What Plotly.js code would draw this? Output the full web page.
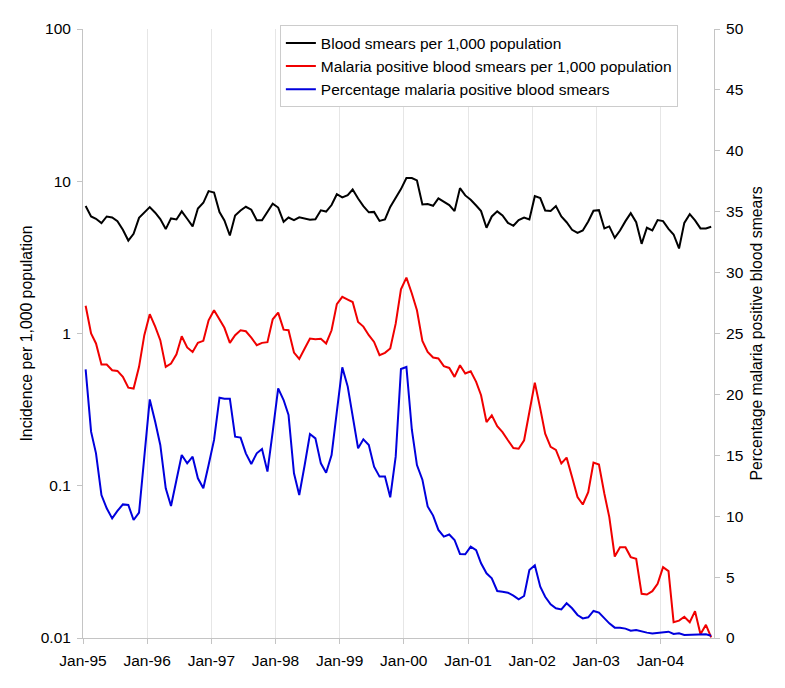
<!DOCTYPE html>
<html>
<head>
<meta charset="utf-8">
<script src="https://cdn.plot.ly/plotly-3.0.1.min.js"></script>
<style>
  html, body { margin: 0; padding: 0; background: #fff; }
  #chart { width: 785px; height: 688px; }
</style>
</head>
<body>
<div id="chart"></div>
<script>
// monthly series, Jan-95 .. Oct-04 (118 months)
const startYear = 1995;
const nMonths = 118;

const smears = [
  6.87, 5.87, 5.67, 5.31, 5.87, 5.78, 5.47, 4.80, 4.08, 4.52,
  5.75, 6.21, 6.76, 6.21, 5.64, 4.85, 5.70, 5.61, 6.34, 5.67,
  5.05, 6.62, 7.22, 8.61, 8.44, 6.27, 5.53, 4.40, 5.96, 6.43,
  6.80, 6.50, 5.55, 5.55, 6.26, 7.12, 6.72, 5.42, 5.78, 5.55,
  5.80, 5.68, 5.58, 5.62, 6.44, 6.32, 6.98, 8.22, 7.84, 8.10,
  8.82, 7.70, 6.87, 6.25, 6.29, 5.49, 5.61, 6.78, 7.80, 8.88,
  10.49, 10.49, 10.12, 7.04, 7.08, 6.90, 7.71, 7.29, 6.97, 6.37,
  9.01, 8.07, 7.55, 6.93, 6.37, 4.95, 5.87, 6.34, 5.96, 5.33,
  5.10, 5.56, 5.78, 5.61, 7.98, 7.75, 6.43, 6.37, 6.87, 5.87,
  5.38, 4.80, 4.58, 4.75, 5.44, 6.40, 6.46, 4.90, 5.05, 4.25,
  4.75, 5.47, 6.17, 5.38, 3.88, 4.95, 4.75, 5.56, 5.47, 4.87,
  4.47, 3.62, 5.33, 6.08, 5.53, 4.90, 4.90, 5.02
];

const positive = [
  1.52, 1.00, 0.86, 0.625, 0.625, 0.574, 0.568, 0.519, 0.441, 0.435,
  0.604, 0.975, 1.34, 1.11, 0.904, 0.604, 0.635, 0.73, 0.96, 0.81,
  0.757, 0.868, 0.895, 1.22, 1.42, 1.24, 1.09, 0.868, 0.975, 1.05,
  1.035, 0.94, 0.838, 0.868, 0.877, 1.24, 1.37, 1.06, 1.05, 0.75,
  0.68, 0.797, 0.927, 0.918, 0.922, 0.86, 1.05, 1.56, 1.74, 1.67,
  1.61, 1.19, 1.11, 0.975, 0.88, 0.72, 0.746, 0.797, 1.16, 1.95,
  2.33, 1.83, 1.42, 0.895, 0.757, 0.695, 0.685, 0.61, 0.594, 0.519,
  0.619, 0.546, 0.565, 0.481, 0.393, 0.262, 0.29, 0.246, 0.225, 0.199,
  0.177, 0.175, 0.199, 0.305, 0.476, 0.321, 0.22, 0.18, 0.172, 0.14,
  0.153, 0.114, 0.0842, 0.0753, 0.0908, 0.142, 0.138, 0.0886, 0.0622, 0.0343,
  0.0395, 0.0395, 0.034, 0.0331, 0.0195, 0.0193, 0.0203, 0.0227, 0.0292, 0.0275,
  0.0127, 0.013, 0.0138, 0.0127, 0.015, 0.0106, 0.0122, 0.0101
];

const percentPositive = [
  22.06, 16.94, 15.16, 11.74, 10.65, 9.82, 10.43, 10.97, 10.92, 9.69,
  10.29, 15.02, 19.59, 17.76, 15.85, 12.29, 10.84, 12.97, 15.02, 14.34,
  14.89, 13.11, 12.29, 14.20, 16.26, 19.73, 19.65, 19.65, 16.53, 16.45,
  15.16, 14.29, 15.16, 15.52, 13.66, 16.94, 20.50, 19.54, 18.31, 13.52,
  11.74, 14.20, 16.75, 16.39, 14.34, 13.57, 15.02, 18.58, 22.22, 20.64,
  18.17, 15.57, 16.31, 15.85, 14.07, 13.25, 13.25, 11.55, 14.89, 22.09,
  22.25, 17.1, 14.2, 13.0, 10.8, 10.05, 8.87, 8.32, 8.5, 8.05,
  6.9, 6.87, 7.5, 7.22, 6.13, 5.31, 4.9, 3.86, 3.8, 3.72,
  3.48, 3.17, 3.45, 5.58, 5.97, 4.21, 3.39, 2.76, 2.44, 2.35,
  2.85, 2.44, 1.89, 1.61, 1.70, 2.22, 2.08, 1.61, 1.20, 0.85,
  0.85, 0.77, 0.60, 0.66, 0.52, 0.44, 0.38, 0.44, 0.52, 0.52,
  0.33, 0.38, 0.25, 0.25, 0.30, 0.25, 0.30, 0.19
];

const leftTicks = [0.01, 0.1, 1, 10, 100];
const leftTickText = ['0.01', '0.1', '1', '10', '100'];

const seriesNames = [
  'Blood smears per 1,000 population',
  'Malaria positive blood smears per 1,000 population',
  'Percentage malaria positive blood smears'
];

// each month sits in the middle of its slot
let months = [];
for (let i = 0; i < nMonths; i++) {
  let y = startYear + Math.floor(i / 12);
  let m = (i % 12) + 1;
  months.push(y + '-' + String(m).padStart(2, '0') + '-16');
}

const font = '"Liberation Sans", Arial, sans-serif';
const axisGray = '#c4c4c4';

let traces = [
  { x: months, y: smears, name: seriesNames[0], type: 'scatter', mode: 'lines',
    line: { color: '#000000', width: 2 } },
  { x: months, y: positive, name: seriesNames[1], type: 'scatter', mode: 'lines',
    line: { color: '#f00000', width: 2 } },
  { x: months, y: percentPositive, name: seriesNames[2], type: 'scatter', mode: 'lines',
    yaxis: 'y2', line: { color: '#0000dd', width: 2 } }
];

let layout = {
  width: 785,
  height: 688,
  margin: { l: 83, r: 71, t: 29, b: 50 },
  paper_bgcolor: '#ffffff',
  plot_bgcolor: '#ffffff',
  font: { family: font, size: 15.5, color: '#000' },
  showlegend: true,
  legend: {
    x: 0.312, y: 1.006, xanchor: 'left', yanchor: 'top',
    bgcolor: '#ffffff', bordercolor: '#cccccc', borderwidth: 1,
    font: { family: font, size: 15.5, color: '#000' }
  },
  xaxis: {
    type: 'date',
    range: ['1995-01-01', '2004-11-01'],
    tick0: '1995-01-01',
    dtick: 'M12',
    tickformat: '%b-%y',
    showgrid: true, gridcolor: '#e6e6e6', gridwidth: 1,
    showline: true, linecolor: axisGray, linewidth: 1,
    ticks: 'outside', ticklen: 5, tickcolor: axisGray,
    ticklabelstandoff: 3,
    zeroline: false
  },
  yaxis: {
    type: 'log',
    range: [-2, 2],
    tickvals: leftTicks,
    ticktext: leftTickText,
    showgrid: false,
    showline: true, linecolor: axisGray, linewidth: 1,
    ticks: 'outside', ticklen: 5, tickcolor: axisGray,
    ticklabelstandoff: 3,
    title: { text: 'Incidence per 1,000 population', standoff: 4,
             font: { family: font, size: 15.8 } },
    automargin: false,
    zeroline: false
  },
  yaxis2: {
    overlaying: 'y',
    side: 'right',
    range: [0, 50],
    dtick: 5,
    showgrid: false,
    showline: true, linecolor: axisGray, linewidth: 1,
    ticks: 'outside', ticklen: 5, tickcolor: axisGray,
    ticklabelstandoff: 3,
    title: { text: 'Percentage malaria positive blood smears', standoff: 8,
             font: { family: font, size: 15.8 } },
    automargin: false,
    zeroline: false
  }
};

Plotly.newPlot('chart', traces, layout, { displayModeBar: false, staticPlot: true });
</script>
</body>
</html>
